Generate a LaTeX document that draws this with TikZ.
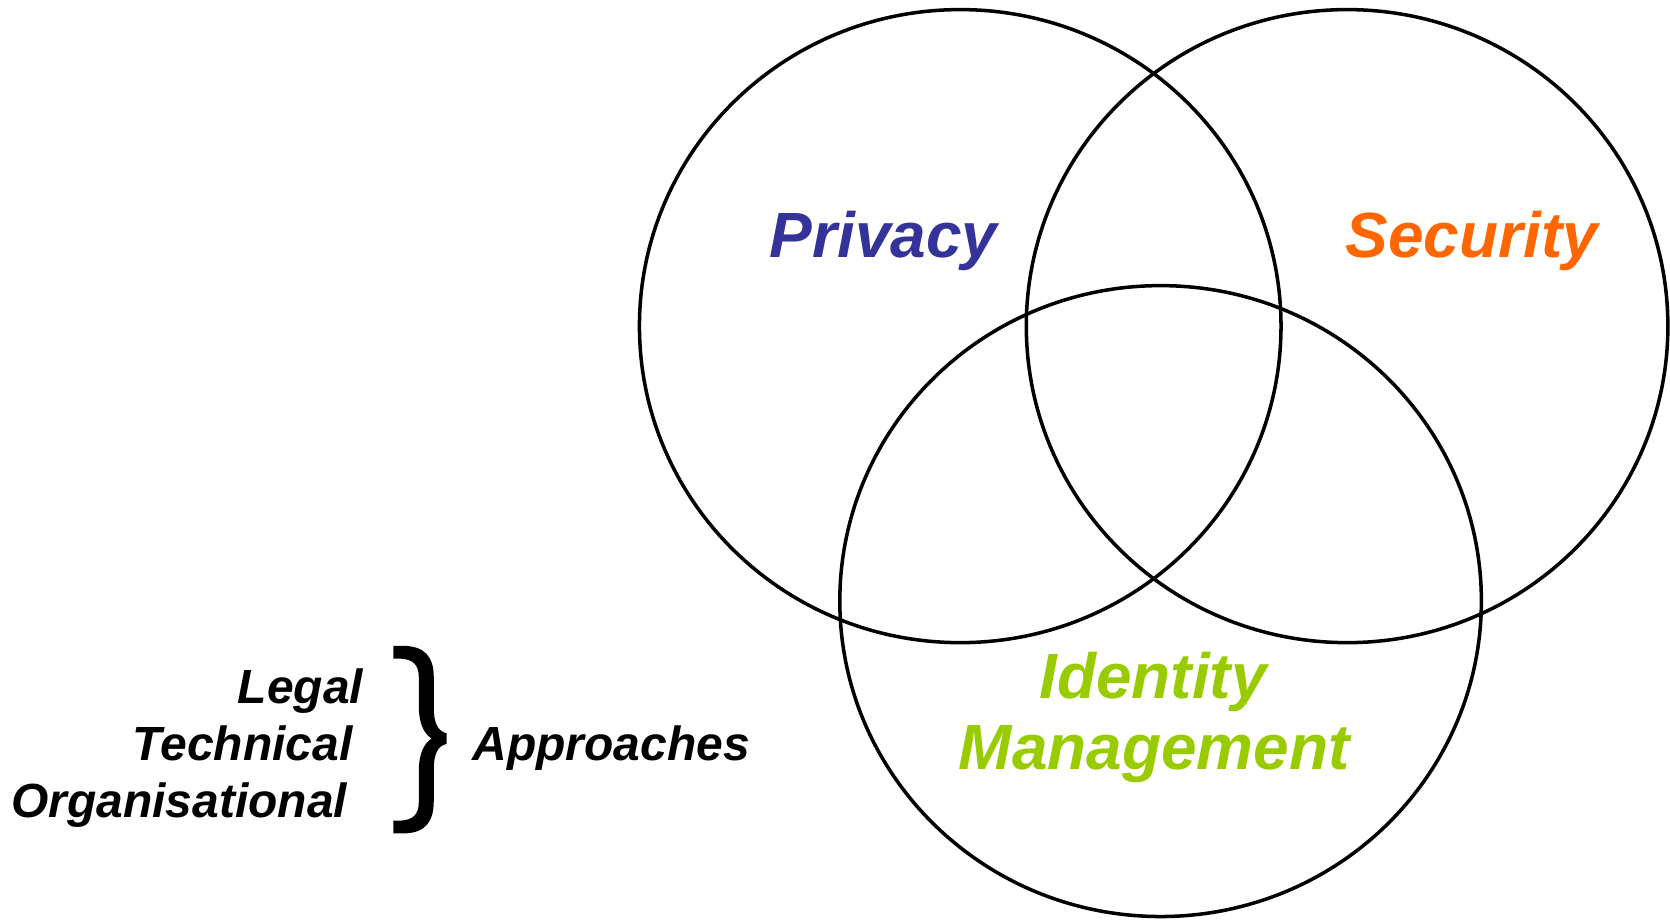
\documentclass[tikz,border=0pt]{standalone}
\usepackage{fontspec}
\setmainfont{Liberation Sans}
\definecolor{privblue}{HTML}{333399}
\definecolor{secorange}{HTML}{FF6600}
\definecolor{idgreen}{HTML}{99CC00}
\begin{document}
\begin{tikzpicture}[x=0.5pt,y=-0.5pt,
  ring/.style={draw=black,line width=1.65pt},
  bigtext/.style={inner sep=0pt,font=\fontsize{30}{36}\selectfont\bfseries\itshape},
  smalltext/.style={inner sep=0pt,font=\fontsize{22.5}{27}\selectfont\bfseries\itshape,text=black}]
\useasboundingbox (0,0) rectangle (1567,863);
% circles
\draw[ring] (901,306) ellipse [x radius=301,y radius=297];
\draw[ring] (1264,306) ellipse [x radius=301,y radius=297];
\draw[ring] (1089,564) ellipse [x radius=301,y radius=296];
% labels
\node[bigtext,text=privblue,anchor=base] (privacy) at (829,242) {Privacy};
\node[bigtext,text=secorange,anchor=base] (security) at (1381,242) {Security};
\node[bigtext,text=idgreen,anchor=base] (identity) at (1082,655) {Identity};
\node[bigtext,text=idgreen,anchor=base] (mgmt) at (1083,722) {Management};
% approaches
\node[smalltext,anchor=base east] (legal) at (341,660) {Legal};
\node[smalltext,anchor=base east] (technical) at (331,714) {Technical};
\node[smalltext,anchor=base east] (organisational) at (326,767) {Organisational};
\node[smalltext,anchor=base west] (approaches) at (443,714) {Approaches};
% brace
\fill[black] (369,606) -- (378,606) .. controls (399,606) and (407,617) .. (407,635)
  -- (407,664) .. controls (407,679) and (411,686) .. (419,688)
  -- (419,698) .. controls (411,700) and (407,707) .. (407,722)
  -- (407,752) .. controls (407,771) and (399,782) .. (378,782)
  -- (369,782) -- (369,770) -- (374,770) .. controls (388,770) and (393,764) .. (393,752)
  -- (393,723) .. controls (393,709) and (397,698) .. (405,693)
  .. controls (397,688) and (393,677) .. (393,663)
  -- (393,636) .. controls (393,624) and (388,618) .. (374,618) -- (369,618) -- cycle;
\end{tikzpicture}
\end{document}
